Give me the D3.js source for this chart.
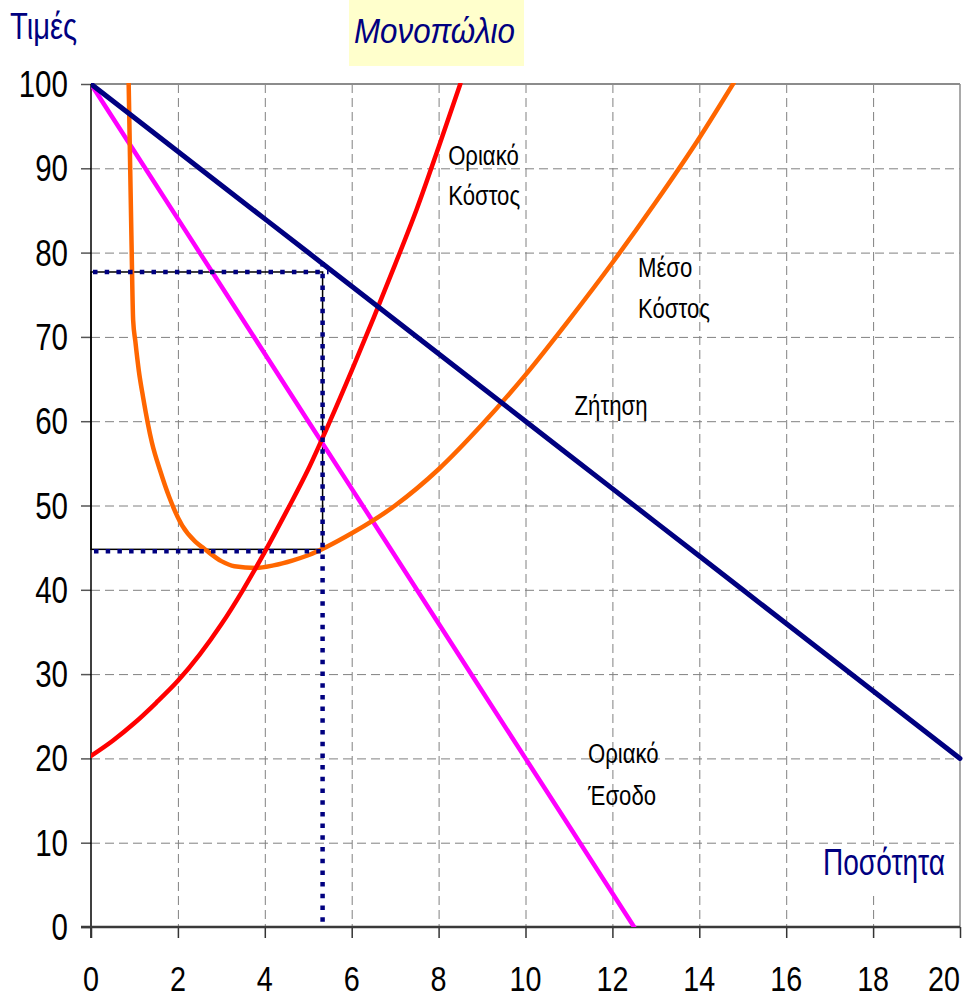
<!DOCTYPE html>
<html>
<head>
<meta charset="utf-8">
<script src="https://cdn.jsdelivr.net/npm/d3@7/dist/d3.min.js"></script>
<style>
  html, body { margin: 0; padding: 0; background: #fff; }
  svg { display: block; }
  text { font-family: "Liberation Sans", Arial, sans-serif; }
</style>
</head>
<body>
<svg id="chart" width="976" height="999"></svg>
<script>
// Axis ticks
const xTicks = [0, 2, 4, 6, 8, 10, 12, 14, 16, 18, 20];
const yTicks = [0, 10, 20, 30, 40, 50, 60, 70, 80, 90, 100];

// Demand (Ζήτηση)
const demandQ = [0, 1, 2, 3, 4, 5, 6, 7, 8, 9, 10, 11, 12, 13, 14, 15, 16, 17, 18, 19, 20];
const demandP = [100, 96, 92, 88, 84, 80, 76, 72, 68, 64, 60, 56, 52, 48, 44, 40, 36, 32, 28, 24, 20];

// Marginal revenue (Οριακό Έσοδο)
const mrQ = [0, 1, 2, 3, 4, 5, 6, 7, 8, 9, 10, 11, 12, 12.5];
const mrP = [100, 92, 84, 76, 68, 60, 52, 44, 36, 28, 20, 12, 4, 0];

// Marginal cost (Οριακό Κόστος)
const mcQ = [0, 0.5, 1, 1.5, 2, 2.5, 3, 3.5, 4, 4.5, 5, 5.5, 6, 6.5, 7, 7.5, 8, 8.5];
const mcP = [20.3, 22.1, 24.2, 26.6, 29.2, 32.3, 35.9, 40.0, 44.5, 49.3, 54.3, 60.0, 66.0, 72.2, 78.6, 85.2, 92.5, 100.0];

// Average cost (Μέσο Κόστος)
const acQ = [0.86, 0.93, 0.97, 1.02, 1.1, 1.2, 1.4, 1.6, 1.8, 2.1, 2.4, 2.6, 3.0, 3.3, 3.8, 4.2, 4.65, 5, 6, 7, 8, 9, 10, 11, 12, 13, 14, 14.8];
const acP = [102, 82, 72, 69.5, 66, 62.8, 57.5, 54, 51, 47.6, 45.7, 44.9, 43.4, 42.8, 42.6, 42.9, 43.5, 44.1, 46.7, 50.0, 54.3, 59.6, 65.5, 72.0, 78.8, 86.0, 93.6, 100.2];

// Monopoly equilibrium: quantity, price, average cost
const eqQ = 5.33;
const eqPrice = 77.7;
const eqAC = 44.8;

const svg = d3.select("#chart");
const x = d3.scaleLinear().domain([0, 20]).range([91, 960]);
const y = d3.scaleLinear().domain([0, 100]).range([927, 84]);

const navy = "#000080";
const NARROW = 0.82;

// Condensed text: regular sans glyphs squeezed to 82% of their natural width
function ntext(parent, px, py, str, size, opts = {}) {
  const t = parent.append("text")
    .attr("x", px).attr("y", py)
    .attr("font-size", size)
    .attr("text-anchor", opts.anchor || "start")
    .attr("fill", opts.fill || "#000")
    .text(str);
  if (opts.italic) t.attr("font-style", "italic");
  const w = t.node().getComputedTextLength();
  t.attr("textLength", (opts.width || w * NARROW).toFixed(1)).attr("lengthAdjust", "spacingAndGlyphs");
  return t;
}

// Title box
svg.append("rect").attr("x", 349).attr("y", 0).attr("width", 175).attr("height", 66).attr("fill", "#ffffcc");
ntext(svg, 354, 43, "Μονοπώλιο", 35, { italic: true, fill: navy, width: 161 });

// Y axis title
ntext(svg, 10, 39, "Τιμές", 36, { fill: navy, width: 67 });

// Grid
const grid = svg.append("g").attr("stroke", "#808080").attr("stroke-width", 1).attr("stroke-dasharray", "9,5");
grid.selectAll(".gx").data(xTicks.filter(d => d > 0 && d < 20)).enter().append("line")
  .attr("x1", d => x(d) + 0.5).attr("x2", d => x(d) + 0.5).attr("y1", y(100)).attr("y2", y(0));
grid.selectAll(".gy").data(yTicks.filter(d => d > 0 && d < 100)).enter().append("line")
  .attr("y1", d => y(d) + 0.5).attr("y2", d => y(d) + 0.5).attr("x1", x(0)).attr("x2", x(20));

// Plot frame (top and right)
svg.append("line").attr("x1", x(0)).attr("x2", x(20)).attr("y1", y(100)).attr("y2", y(100))
  .attr("stroke", "#8c8c8c").attr("stroke-width", 2);
svg.append("line").attr("x1", x(20)).attr("x2", x(20)).attr("y1", y(100)).attr("y2", y(0))
  .attr("stroke", "#8c8c8c").attr("stroke-width", 1.5);

// X axis title on an opaque box over the grid
svg.append("rect").attr("x", 818).attr("y", 846).attr("width", 134).attr("height", 46).attr("fill", "#fff");
ntext(svg, 945, 875, "Ποσότητα", 36, { fill: navy, width: 122, anchor: "end" });

// Y axis: ticks from d3, labels condensed
const yAxis = svg.append("g").attr("transform", `translate(${x(0)},0)`)
  .call(d3.axisLeft(y).tickValues(yTicks).tickSize(10).tickFormat(""));
yAxis.select(".domain").remove();
yAxis.selectAll(".tick line").attr("stroke", "#555").attr("stroke-width", 1.5);
const yLab = svg.append("g");
yTicks.forEach(v => ntext(yLab, x(0) - 23, y(v) + 13, String(v), 36, { anchor: "end" }));
svg.append("line").attr("x1", x(0)).attr("x2", x(0)).attr("y1", y(100)).attr("y2", y(0) + 11)
  .attr("stroke", "#000").attr("stroke-width", 1.5);

// X axis
const xAxis = svg.append("g").attr("transform", `translate(0,${y(0)})`)
  .call(d3.axisBottom(x).tickValues(xTicks).tickSize(11).tickFormat(""));
xAxis.select(".domain").remove();
xAxis.selectAll(".tick line").attr("stroke", "#333").attr("stroke-width", 1.5);
const xLab = svg.append("g");
xTicks.forEach(v => ntext(xLab, x(v), 991, String(v), 35, { anchor: v === 20 ? "end" : "middle" }));
svg.append("line").attr("x1", x(0) - 10).attr("x2", x(20)).attr("y1", y(0)).attr("y2", y(0))
  .attr("stroke", "#3a3a3a").attr("stroke-width", 2.5);

// Clip region for curves
svg.append("clipPath").attr("id", "plotClip").append("rect")
  .attr("x", x(0)).attr("y", y(100) - 1).attr("width", x(20) - x(0) + 3).attr("height", y(0) - y(100) + 1);

// Equilibrium rectangle (thin black outline)
svg.append("rect").attr("x", x(0)).attr("y", y(eqPrice))
  .attr("width", x(eqQ) - x(0)).attr("height", y(eqAC) - y(eqPrice))
  .attr("fill", "none").attr("stroke", "#000").attr("stroke-width", 1.5);

const curves = svg.append("g").attr("clip-path", "url(#plotClip)").attr("fill", "none")
  .attr("stroke-linejoin", "round").attr("stroke-linecap", "round");

function pts(qs, ps) { return qs.map((q, i) => [q, ps[i]]); }
const lineLinear = d3.line().x(d => x(d[0])).y(d => y(d[1]));
const lineSmooth = d3.line().x(d => x(d[0])).y(d => y(d[1])).curve(d3.curveMonotoneX);

curves.append("path").attr("d", lineLinear(pts(mrQ, mrP))).attr("stroke", "#ff00ff").attr("stroke-width", 4.5);
curves.append("path").attr("d", lineSmooth(pts(acQ, acP))).attr("stroke", "#ff6600").attr("stroke-width", 4.5);
curves.append("path").attr("d", lineSmooth(pts(mcQ, mcP))).attr("stroke", "#ff0000").attr("stroke-width", 4.5);
curves.append("path").attr("d", lineLinear(pts(demandQ, demandP))).attr("stroke", navy).attr("stroke-width", 5);

// Dotted equilibrium guides
const dots = svg.append("g").attr("stroke", navy).attr("stroke-width", 4.5).attr("stroke-dasharray", "4.5,7.2");
dots.append("line").attr("x1", x(0) + 2).attr("x2", x(eqQ) + 6).attr("y1", y(eqPrice)).attr("y2", y(eqPrice));
dots.append("line").attr("x1", x(0) + 3).attr("x2", x(eqQ)).attr("y1", y(eqAC) + 2).attr("y2", y(eqAC) + 2);
dots.append("line").attr("x1", x(eqQ)).attr("x2", x(eqQ)).attr("y1", y(eqPrice) - 10).attr("y2", y(0));

// Curve labels
const lab = svg.append("g");
function label(q, p, t) { ntext(lab, x(q), y(p), t, 27); }
label(8.22, 90.4, "Οριακό");
label(8.22, 85.6, "Κόστος");
label(12.59, 77.1, "Μέσο");
label(12.59, 72.3, "Κόστος");
label(11.13, 60.7, "Ζήτηση");
label(11.44, 19.45, "Οριακό");
label(11.44, 14.5, "Έσοδο");
</script>
</body>
</html>
